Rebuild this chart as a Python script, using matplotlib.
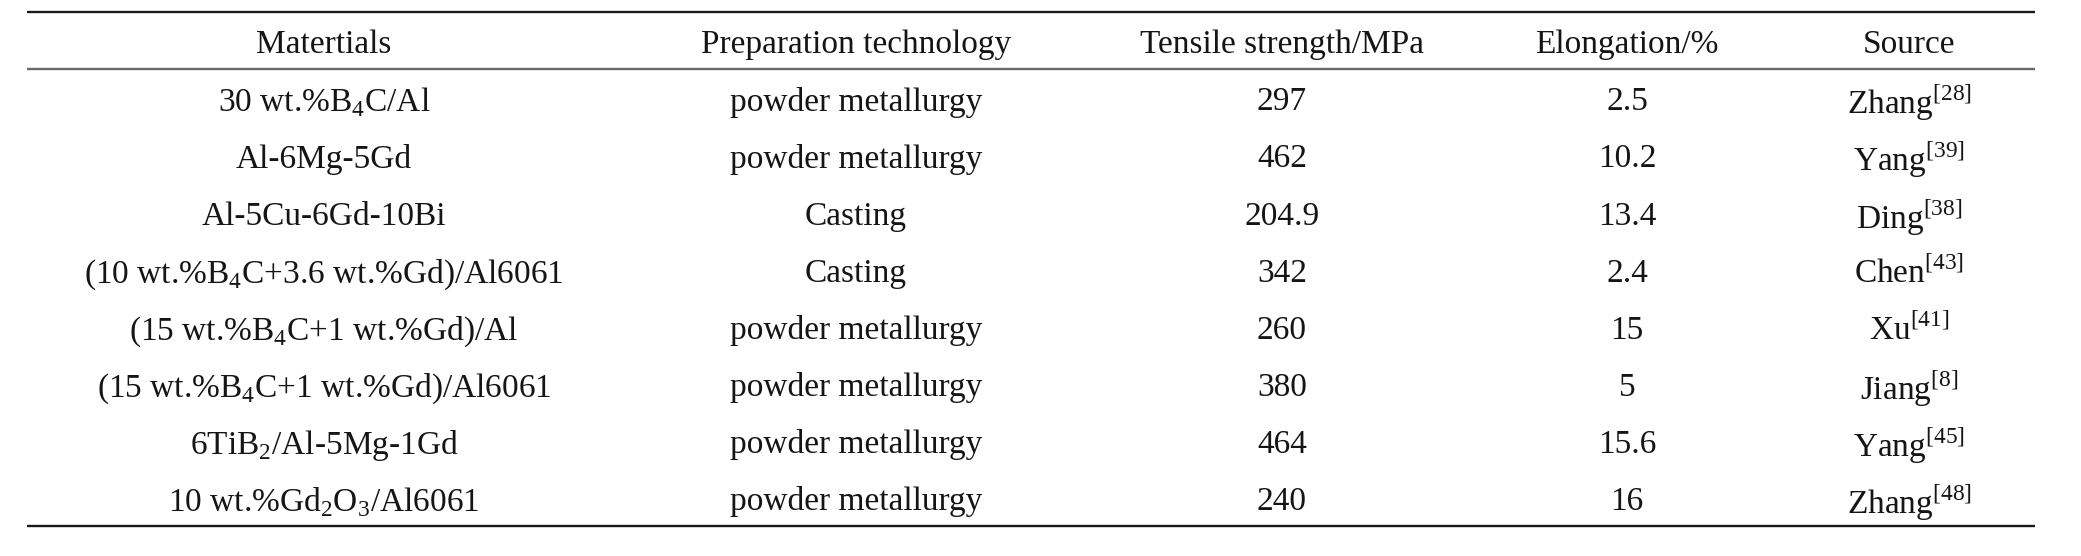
import matplotlib
matplotlib.use("Agg")
import matplotlib.pyplot as plt

plt.rcParams["font.family"] = ["Liberation Serif", "DejaVu Serif"]
plt.rcParams["mathtext.fontset"] = "custom"
plt.rcParams["mathtext.rm"] = "Liberation Serif"

# ── Table content ─────────────────────────────────────────
headers = ["Matertials", "Preparation technology", "Tensile strength/MPa",
           "Elongation/%", "Source"]
materials = [
    r"30 wt.%B$_\mathregular{4}$C/Al",
    "Al-6Mg-5Gd",
    "Al-5Cu-6Gd-10Bi",
    r"(10 wt.%B$_\mathregular{4}$C+3.6 wt.%Gd)/Al6061",
    r"(15 wt.%B$_\mathregular{4}$C+1 wt.%Gd)/Al",
    r"(15 wt.%B$_\mathregular{4}$C+1 wt.%Gd)/Al6061",
    r"6TiB$_\mathregular{2}$/Al-5Mg-1Gd",
    r"10 wt.%Gd$_\mathregular{2}$O$_\mathregular{3}$/Al6061",
]
technology = ["powder metallurgy", "powder metallurgy", "Casting", "Casting",
              "powder metallurgy", "powder metallurgy", "powder metallurgy",
              "powder metallurgy"]
tensile = ["297", "462", "204.9", "342", "260", "380", "464", "240"]
elongation = ["2.5", "10.2", "13.4", "2.4", "15", "5", "15.6", "16"]
authors = ["Zhang", "Yang", "Ding", "Chen", "Xu", "Jiang", "Yang", "Zhang"]
refs = ["28", "39", "38", "43", "41", "8", "45", "48"]

# ── Layout (pixel coordinates) ────────────────────────────
W, H = 2081, 556
col_x = [324, 856, 1282, 1627, 1909]
x_left, x_right = 27, 2035
y_top, y_head, y_bottom = 12, 69, 526
fs = 24
dy = 1          # nudge text down a little, like the scan
txt_c = "#151515"

fig = plt.figure(figsize=(W / 100, H / 100), dpi=100, facecolor="white")
ax = fig.add_axes([0, 0, 1, 1])
ax.set_xlim(0, W)
ax.set_ylim(H, 0)
ax.axis("off")

ax.plot([x_left, x_right], [y_top, y_top], color="#1a1a1a", lw=1.7,
        solid_capstyle="butt")
ax.plot([x_left, x_right], [y_head, y_head], color="#6a6a6a", lw=1.7,
        solid_capstyle="butt")
ax.plot([x_left, x_right], [y_bottom, y_bottom], color="#1a1a1a", lw=1.7,
        solid_capstyle="butt")

y_h = (y_top + y_head) / 2 + dy
for x, h in zip(col_x, headers):
    ax.text(x, y_h, h, ha="center", va="center_baseline", fontsize=fs,
            color=txt_c)

n = len(materials)
row_h = (y_bottom - y_head) / n
sources = [f"{a}$^\\mathregular{{[{r}]}}$" for a, r in zip(authors, refs)]
for i in range(n):
    y = y_head + row_h * (i + 0.5) + dy
    cells = [materials[i], technology[i], tensile[i], elongation[i], sources[i]]
    for x, c in zip(col_x, cells):
        ax.text(x, y, c, ha="center", va="center_baseline", fontsize=fs,
                color=txt_c)

fig.savefig("out.png", dpi=100, facecolor="white")
plt.close(fig)
